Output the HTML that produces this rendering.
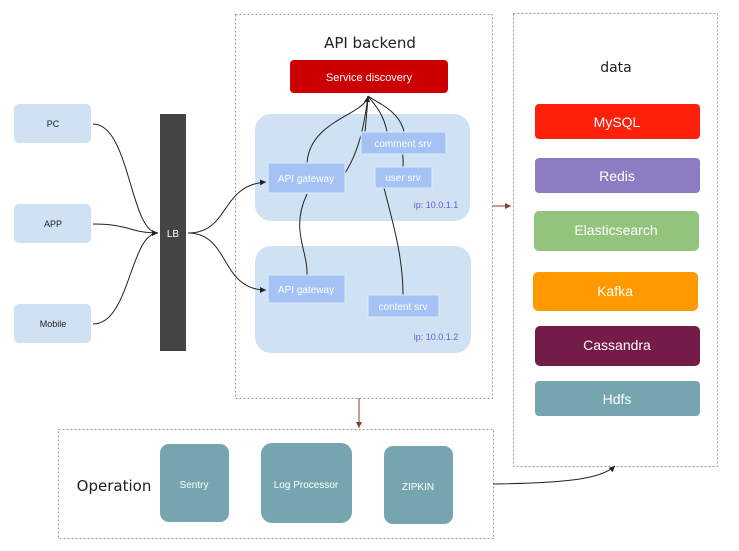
<!DOCTYPE html>
<html><head><meta charset="utf-8"><style>
body{margin:0;width:739px;height:551px;background:#fff;overflow:hidden;font-family:"Liberation Sans",sans-serif}
svg{position:absolute;left:0;top:0}
</style></head><body>
<svg width="739" height="551" viewBox="0 0 739 551" xmlns="http://www.w3.org/2000/svg">
<defs>
<marker id="a" markerWidth="8" markerHeight="8" refX="6" refY="3" orient="auto"><path d="M0,0 L6,3 L0,6 z" fill="#222"/></marker>
<marker id="b" markerWidth="8" markerHeight="8" refX="6" refY="3" orient="auto"><path d="M0,0 L6,3 L0,6 z" fill="#8b3a3a"/></marker>
</defs>
<g fill="none" stroke="#999" stroke-dasharray="2,2">
<rect x="235.5" y="14.5" width="257" height="384"/>
<rect x="513.5" y="13.5" width="204" height="453"/>
<rect x="58.5" y="429.5" width="435" height="109"/>
</g>
<g font-family="'Comic Sans MS','DejaVu Sans',sans-serif" fill="#222" text-anchor="middle">
<text x="370" y="48" font-size="15">API backend</text>
<text x="616" y="72" font-size="14">data</text>
<text x="114" y="491" font-size="15">Operation</text>
</g>
<g fill="#cfe2f3">
<rect x="14" y="104" width="77" height="39" rx="5"/>
<rect x="14" y="204" width="77" height="39" rx="5"/>
<rect x="14" y="304" width="77" height="39" rx="5"/>
<rect x="255" y="114" width="215" height="107" rx="16"/>
<rect x="255" y="246" width="216" height="107" rx="16"/>
</g>
<g font-size="9" fill="#222" text-anchor="middle">
<text x="53" y="127">PC</text><text x="53" y="227">APP</text><text x="53" y="327">Mobile</text>
</g>
<rect x="160" y="114" width="26" height="237" fill="#444"/>
<text x="173" y="237" font-size="10" fill="#fff" text-anchor="middle">LB</text>
<g fill="none" stroke="#222" stroke-width="1">
<path d="M93,124 C130,124 130,233 158,233" marker-end="url(#a)"/>
<path d="M93,224 C130,224 130,233 158,233"/>
<path d="M93,324 C130,324 130,233 158,233"/>
<path d="M188,233 C230,233 220,185 266,182" marker-end="url(#a)"/>
<path d="M188,233 C230,233 220,290 266,290" marker-end="url(#a)"/>
<path d="M307,163 C310,120 365,115 368,96" marker-end="url(#a)"/>
<path d="M345,173 C360,150 365,120 368,96"/>
<path d="M307,194 C290,230 308,250 307,275"/>
<path d="M365,132 C367,110 368,100 368,96"/>
<path d="M387,132 C383,110 370,100 368,96"/>
<path d="M404,132 C400,110 372,100 368,96"/>
<path d="M403,167 C404,150 400,140 400,132"/>
<path d="M384,188 C395,230 403,260 403,295"/>
</g>
<rect x="290" y="60" width="158" height="33" rx="4" fill="#cc0000"/>
<text x="369" y="81" font-size="11" fill="#fff" text-anchor="middle">Service discovery</text>
<g fill="#a4c2f4" stroke="#dfe9fb">
<rect x="268" y="163" width="77" height="30"/>
<rect x="361" y="132" width="85" height="22"/>
<rect x="375" y="167" width="57" height="21"/>
<rect x="268" y="275" width="77" height="28"/>
<rect x="368" y="295" width="71" height="22"/>
</g>
<g font-size="10" fill="#fff" text-anchor="middle">
<text x="306" y="182">API gateway</text>
<text x="403" y="147">comment srv</text>
<text x="403" y="181">user srv</text>
<text x="306" y="293">API gateway</text>
<text x="403" y="310">content srv</text>
</g>
<g font-size="9" fill="#6a5acd" text-anchor="middle">
<text x="436" y="208">ip: 10.0.1.1</text><text x="436" y="340">ip: 10.0.1.2</text>
</g>
<g font-size="14" fill="#fff" text-anchor="middle">
<rect x="535" y="104" width="165" height="35" rx="4" fill="#ff200c"/><text x="617" y="127">MySQL</text>
<rect x="535" y="158" width="165" height="35" rx="4" fill="#8e7cc3"/><text x="617" y="181">Redis</text>
<rect x="534" y="211" width="165" height="40" rx="5" fill="#93c47d"/><text x="616" y="235">Elasticsearch</text>
<rect x="533" y="272" width="165" height="39" rx="5" fill="#ff9900"/><text x="615" y="296">Kafka</text>
<rect x="535" y="326" width="165" height="40" rx="5" fill="#741b47"/><text x="617" y="350">Cassandra</text>
<rect x="535" y="381" width="165" height="35" rx="4" fill="#76a5af"/><text x="617" y="404">Hdfs</text>
</g>
<g font-size="10" fill="#fff" text-anchor="middle">
<rect x="160" y="444" width="69" height="78" rx="9" fill="#76a5af"/><text x="194" y="488">Sentry</text>
<rect x="261" y="443" width="91" height="80" rx="11" fill="#76a5af"/><text x="306" y="488">Log Processor</text>
<rect x="384" y="446" width="69" height="78" rx="9" fill="#76a5af"/><text x="418" y="490">ZIPKIN</text>
</g>
<g fill="none" stroke="#8b3a3a">
<path d="M492,206 L511,206" marker-end="url(#b)"/>
<path d="M359,398 L359,428" marker-end="url(#b)"/>
</g>
<path d="M493,484 C560,483 600,480 615,466" fill="none" stroke="#222" marker-end="url(#a)"/>
</svg>
</body></html>
